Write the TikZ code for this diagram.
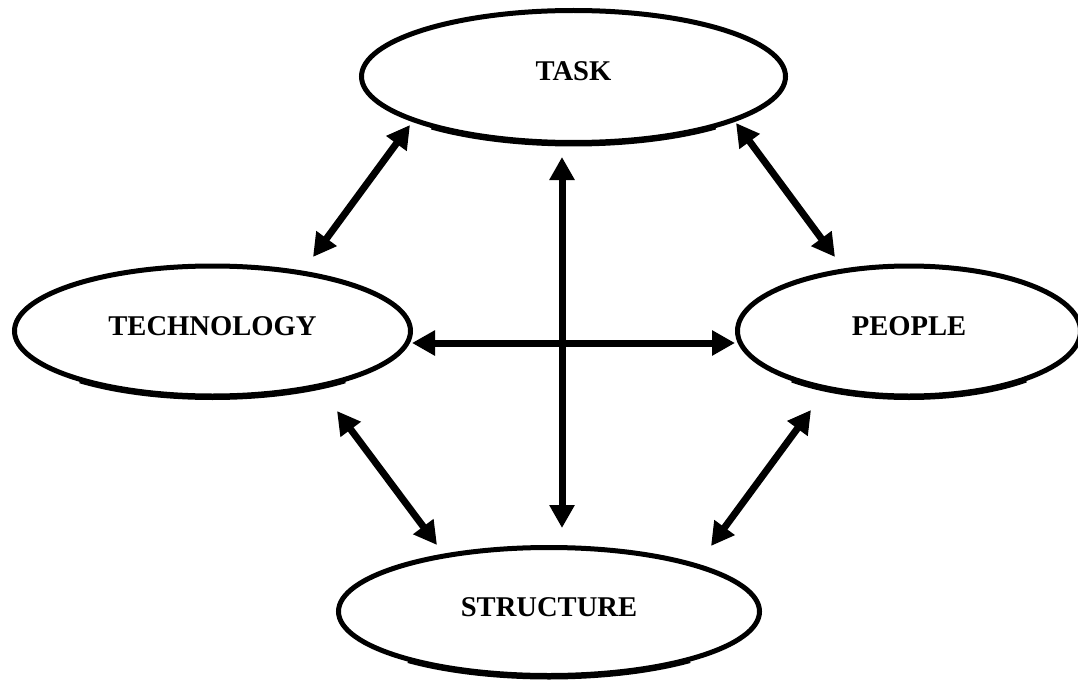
\documentclass[tikz,border=0pt]{standalone}
\usepackage{fontspec}
\setmainfont{Liberation Serif}
\usetikzlibrary{arrows.meta,shapes.geometric}
\begin{document}
\begin{tikzpicture}[x=1pt,y=-1pt,
  oval/.style={ellipse,draw,line width=5pt,inner sep=0pt,
    font=\fontsize{28.6}{30}\selectfont\bfseries,text height=19pt,text depth=10pt},
  link/.style={line width=7pt,{Triangle[length=23pt,width=24pt]}-{Triangle[length=23pt,width=24pt]}},
  lip/.style={line width=5pt}]
\useasboundingbox (0,0) rectangle (1078,682);
% nodes
\node[oval,minimum width=424pt,minimum height=132pt] (task) at (573.5,76.5) {TASK};
\node[oval,minimum width=396pt,minimum height=130pt] (tech) at (212.5,331) {TECHNOLOGY};
\node[oval,minimum width=343pt,minimum height=130pt] (people) at (909,331) {PEOPLE};
\node[oval,minimum width=421pt,minimum height=128pt] (struct) at (549,611.5) {STRUCTURE};
% slightly offset lower rims
\draw[lip] ([yshift=-1.5pt]task.center) ++(228:212pt and 66pt) arc[start angle=228,end angle=312,x radius=212pt,y radius=66pt];
\draw[lip] ([yshift=-1.5pt]tech.center) ++(228:198pt and 65pt) arc[start angle=228,end angle=312,x radius=198pt,y radius=65pt];
\draw[lip] ([yshift=-1.5pt]people.center) ++(227:171.5pt and 65pt) arc[start angle=227,end angle=313,x radius=171.5pt,y radius=65pt];
\draw[lip] ([yshift=-1.5pt]struct.center) ++(228:210.5pt and 64pt) arc[start angle=228,end angle=312,x radius=210.5pt,y radius=64pt];
% connectors
\draw[link] ([shift={(-163.5,48.5)}]task.center) -- ([shift={(100.5,-74)}]tech.center);
\draw[link] ([shift={(162.5,46.5)}]task.center) -- ([shift={(-74,-74)}]people.center);
\draw[link] ([shift={(124.5,80)}]tech.center) -- ([shift={(-112,-66.5)}]struct.center);
\draw[link] ([shift={(-98,79)}]people.center) -- ([shift={(162,-65.5)}]struct.center);
\draw[link] ([shift={(199.5,12)}]tech.center) -- ([shift={(-174,12)}]people.center);
\draw[link] ([shift={(-11.5,80.5)}]task.center) -- ([shift={(13,-83.5)}]struct.center);
\end{tikzpicture}
\end{document}
